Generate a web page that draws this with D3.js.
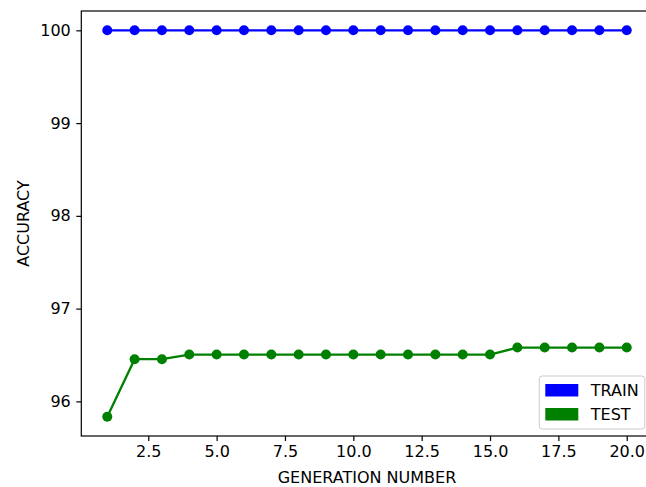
<!DOCTYPE html>
<html>
<head>
<meta charset="utf-8">
<script src="https://cdn.jsdelivr.net/npm/d3@7"></script>
<style>
  body { margin: 0; background: #fff; }
  svg text { font-family: "DejaVu Sans", sans-serif; fill: #000; }
</style>
</head>
<body>
<svg id="chart"></svg>
<script>
// Chart data
const generations = d3.range(1, 21);
const trainAccuracy = [100, 100, 100, 100, 100, 100, 100, 100, 100, 100,
                       100, 100, 100, 100, 100, 100, 100, 100, 100, 100];
const testAccuracy = [95.835, 96.455, 96.455, 96.505, 96.505, 96.505, 96.505, 96.505, 96.505, 96.505,
                      96.505, 96.505, 96.505, 96.505, 96.505, 96.58, 96.58, 96.58, 96.58, 96.58];
const xTicks = [2.5, 5.0, 7.5, 10.0, 12.5, 15.0, 17.5, 20.0];
const yTicks = [96, 97, 98, 99, 100];
const seriesNames = ["TRAIN", "TEST"];
const seriesColors = ["#0000ff", "#008000"];

const width = 646, height = 487;
const plot = { left: 81.3, top: 11, right: 652.7, bottom: 436 };
const fontSize = "16px";

const svg = d3.select("#chart")
    .attr("width", width)
    .attr("height", height);

// matplotlib style 5% margins around the data
const xMin = d3.min(generations), xMax = d3.max(generations);
const xPad = (xMax - xMin) * 0.05;
const allY = trainAccuracy.concat(testAccuracy);
const yMin = d3.min(allY), yMax = d3.max(allY);
const yPad = (yMax - yMin) * 0.05;

const x = d3.scaleLinear()
    .domain([xMin - xPad, xMax + xPad])
    .range([plot.left, plot.right]);
const y = d3.scaleLinear()
    .domain([yMin - yPad, yMax + yPad])
    .range([plot.bottom, plot.top]);

// Axes
const xAxis = svg.append("g")
    .attr("transform", `translate(0,${plot.bottom})`)
    .call(d3.axisBottom(x).tickValues(xTicks).tickFormat(d3.format(".1f")).tickSize(5).tickPadding(5));
const yAxis = svg.append("g")
    .attr("transform", `translate(${plot.left},0)`)
    .call(d3.axisLeft(y).tickValues(yTicks).tickFormat(d3.format("d")).tickSize(5).tickPadding(5.5));

[xAxis, yAxis].forEach(ax => {
    ax.select(".domain").remove();
    ax.selectAll(".tick line").attr("stroke", "#000").attr("stroke-width", 1.2);
    ax.selectAll(".tick text").style("font-size", fontSize).attr("fill", "#000");
});

// Frame
svg.append("rect")
    .attr("x", plot.left)
    .attr("y", plot.top)
    .attr("width", plot.right - plot.left)
    .attr("height", plot.bottom - plot.top)
    .attr("fill", "none")
    .attr("stroke", "#000")
    .attr("stroke-width", 1.2);

// Lines + markers
const line = d3.line()
    .x((d, i) => x(generations[i]))
    .y(d => y(d));

[trainAccuracy, testAccuracy].forEach((values, s) => {
    const g = svg.append("g");
    g.append("path")
        .datum(values)
        .attr("d", line)
        .attr("fill", "none")
        .attr("stroke", seriesColors[s])
        .attr("stroke-width", 2.3);
    g.selectAll("circle")
        .data(values)
        .join("circle")
        .attr("cx", (d, i) => x(generations[i]))
        .attr("cy", d => y(d))
        .attr("r", 5)
        .attr("fill", seriesColors[s]);
});

// Axis labels
svg.append("text")
    .attr("x", (plot.left + plot.right) / 2)
    .attr("y", 483)
    .attr("text-anchor", "middle")
    .style("font-size", fontSize)
    .text("GENERATION NUMBER");
svg.append("text")
    .attr("transform", `translate(29,${(plot.top + plot.bottom) / 2}) rotate(-90)`)
    .attr("text-anchor", "middle")
    .style("font-size", fontSize)
    .text("ACCURACY");

// Legend
const legend = svg.append("g").attr("transform", "translate(539.3,376)");
legend.append("rect")
    .attr("width", 105.5)
    .attr("height", 53)
    .attr("rx", 3)
    .attr("fill", "#fff")
    .attr("fill-opacity", 0.8)
    .attr("stroke", "#cccccc")
    .attr("stroke-width", 1);
seriesNames.forEach((name, i) => {
    const row = legend.append("g").attr("transform", `translate(0,${8 + i * 24})`);
    row.append("rect")
        .attr("x", 6)
        .attr("y", 0)
        .attr("width", 33)
        .attr("height", 12.5)
        .attr("fill", seriesColors[i]);
    row.append("text")
        .attr("x", 51.5)
        .attr("y", 6.5)
        .attr("dy", "0.35em")
        .style("font-size", fontSize)
        .text(name);
});
</script>
</body>
</html>
